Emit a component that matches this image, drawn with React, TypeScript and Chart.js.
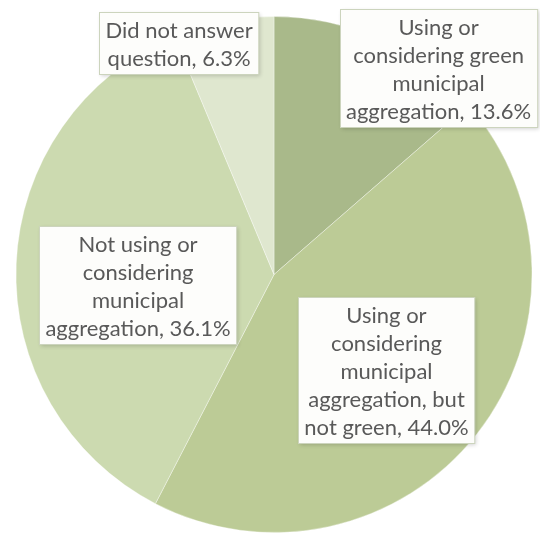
import React, { useEffect, useRef } from "react";
import { Chart, registerables } from "chart.js";

Chart.register(...registerables);

const categories = [
  "Using or considering green municipal aggregation",
  "Using or considering municipal aggregation, but not green",
  "Not using or considering municipal aggregation",
  "Did not answer question",
];
const shares = [13.6, 44.0, 36.1, 6.3];
const sliceColors = ["#a9b98a", "#bccb96", "#ccdab0", "#dfe7cf"];
// label text lines (share value appended to last line)
const labelLines = [
  ["Using or", "considering green", "municipal", "aggregation,"],
  ["Using or", "considering", "municipal", "aggregation, but", "not green,"],
  ["Not using or", "considering", "municipal", "aggregation,"],
  ["Did not answer", "question,"],
];
// label box centers as fractions of pie radius from pie center
const labelAnchors = [
  [0.638, -0.802],
  [0.436, 0.372],
  [-0.527, 0.041],
  [-0.368, -0.899],
];

const FONT = '22px Lato, "Open Sans", sans-serif';
const LINE_H = 28;

const labelPlugin = {
  id: "boxLabels",
  afterDatasetsDraw(chart: any) {
    const meta = chart.getDatasetMeta(0);
    const arc = meta.data[0];
    if (!arc) return;
    const cx = arc.x;
    const cy = arc.y;
    const r = arc.outerRadius;
    const ctx = chart.ctx;
    ctx.save();
    ctx.font = FONT;
    labelLines.forEach((lines, i) => {
      const full = lines.map((l, j) =>
        j === lines.length - 1 ? `${l} ${shares[i].toFixed(1)}%` : l
      );
      const w = Math.max(...full.map((t) => ctx.measureText(t).width)) + 12;
      const h = full.length * LINE_H + 6;
      const bx = cx + labelAnchors[i][0] * r;
      const by = cy + labelAnchors[i][1] * r;
      const x0 = Math.round(bx - w / 2) + 0.5;
      const y0 = Math.round(by - h / 2) + 0.5;
      ctx.shadowColor = "rgba(0,0,0,0.18)";
      ctx.shadowBlur = 4;
      ctx.shadowOffsetX = 1;
      ctx.shadowOffsetY = 1;
      ctx.fillStyle = "#fdfdfb";
      ctx.fillRect(x0, y0, w, h);
      ctx.shadowColor = "transparent";
      ctx.strokeStyle = "#ccd4bd";
      ctx.lineWidth = 1;
      ctx.strokeRect(x0, y0, w, h);
      ctx.fillStyle = "#595959";
      ctx.textAlign = "center";
      ctx.textBaseline = "middle";
      full.forEach((t, j) => {
        ctx.fillText(t, bx, y0 + 3 + LINE_H * (j + 0.5) + 1);
      });
    });
    ctx.restore();
  },
};

export default function App() {
  const ref = useRef<HTMLCanvasElement | null>(null);
  useEffect(() => {
    if (!ref.current) return;
    const chart = new Chart(ref.current, {
      type: "pie",
      data: {
        labels: categories,
        datasets: [
          {
            data: shares,
            backgroundColor: sliceColors,
            borderColor: "rgba(255,255,255,0.35)",
            borderWidth: 1,
          },
        ],
      },
      options: {
        responsive: false,
        animation: false,
        devicePixelRatio: 1,
        layout: { padding: { left: 15, right: 7, top: 16, bottom: 5 } },
        plugins: {
          legend: { display: false },
          tooltip: { enabled: false },
        },
      },
      plugins: [labelPlugin],
    });
    return () => chart.destroy();
  }, []);
  return (
    <div
      style={{
        position: "absolute",
        left: 0,
        top: 0,
        width: 540,
        height: 538,
        background: "#ffffff",
      }}
    >
      <canvas ref={ref} width={540} height={538} style={{ width: 540, height: 538 }} />
    </div>
  );
}
